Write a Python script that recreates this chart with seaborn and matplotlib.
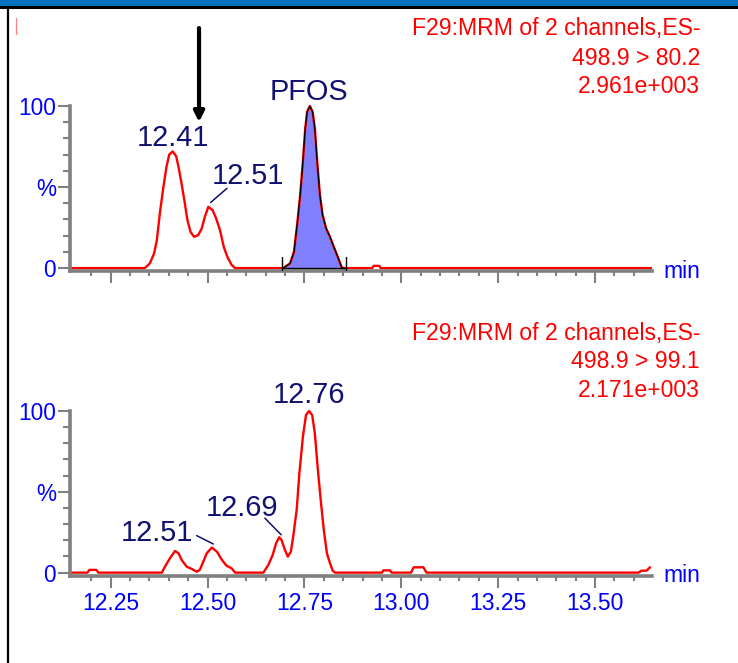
import numpy as np
import pandas as pd
import seaborn as sns
import matplotlib
matplotlib.use("Agg")
import matplotlib.pyplot as plt
from matplotlib.lines import Line2D
from matplotlib.patches import Rectangle
import matplotlib.transforms as mtransforms

# ---------------- data ----------------
top_time = [12.145, 12.338, 12.351, 12.362, 12.369, 12.377, 12.386, 12.394, 12.401, 12.410,
            12.419, 12.425, 12.433, 12.440, 12.448, 12.456, 12.465, 12.476, 12.485, 12.493,
            12.502, 12.513, 12.522, 12.532, 12.542, 12.551, 12.562, 12.571, 12.695, 12.713,
            12.723, 12.732, 12.739, 12.746, 12.752, 12.757, 12.764, 12.771, 12.777, 12.783,
            12.790, 12.797, 12.806, 12.816, 12.826, 12.836, 12.846, 12.850, 12.925, 12.929,
            12.943, 12.947, 13.647]
top_int = [0, 0, 2.9, 9, 17, 34, 50, 62.5, 70, 72,
           69, 62.5, 52, 42, 29.6, 22.4, 19.3, 20.4, 24.5, 31.7,
           37.8, 35.8, 30.7, 23.5, 13, 7, 2, 0, 0, 2.9,
           10, 28.6, 45, 65.6, 86, 96.5, 100, 96.5, 86, 65.6,
           45, 32.7, 24.5, 19.3, 13, 7, 0.6, 0, 0, 1.4,
           1.4, 0, 0]

bot_time = [12.145, 12.190, 12.195, 12.213, 12.218, 12.382, 12.390, 12.403, 12.416, 12.425,
            12.433, 12.446, 12.459, 12.472, 12.480, 12.489, 12.498, 12.511, 12.524, 12.537,
            12.549, 12.562, 12.571, 12.644, 12.657, 12.668, 12.677, 12.685, 12.691, 12.698,
            12.707, 12.715, 12.721, 12.730, 12.737, 12.746, 12.754, 12.762, 12.770, 12.777,
            12.784, 12.792, 12.800, 12.808, 12.816, 12.823, 12.829, 12.950, 12.954, 12.971,
            12.975, 13.025, 13.032, 13.057, 13.065, 13.612, 13.620, 13.633, 13.642]
bot_int = [0, 0, 1.7, 1.7, 0, 0, 3.7, 8.9, 13.4, 12,
           7.9, 3.7, 2.3, 0.6, 1.7, 6.8, 12, 15.5, 13, 7.9,
           4.3, 2.7, 0, 0, 4.8, 10.9, 18.2, 21.9, 20.2, 15.1,
           9.9, 13, 22.3, 38.8, 61.5, 84, 97.5, 100, 97.5, 86,
           65.5, 45, 26.4, 12, 5.8, 1.2, 0, 0, 1.4, 1.4,
           0, 0, 3.3, 3.3, 0, 0, 1.2, 1.2, 3.3]

pfos_window = [12.691, 12.857]

top_header = ["F29:MRM of 2 channels,ES-", "498.9 > 80.2", "2.961e+003"]
bot_header = ["F29:MRM of 2 channels,ES-", "498.9 > 99.1", "2.171e+003"]

top_labels = [("12.41", 12.411, 75.3), ("12.51", 12.605, 52.2), ("PFOS", 12.762, 103.7)]
bot_labels = [("12.76", 12.762, 104.8), ("12.69", 12.588, 35.1), ("12.51", 12.370, 19.8)]
top_leaders = [((12.508, 40.5), (12.550, 49.2))]
bot_leaders = [((12.648, 33.7), (12.690, 23.4)), ((12.472, 22.9), (12.515, 17.7))]

x_major = [12.25, 12.50, 12.75, 13.00, 13.25, 13.50]
x_major_labels = ["12.25", "12.50", "12.75", "13.00", "13.25", "13.50"]
y_major = [0, 50, 100]
y_major_labels = ["0", "%", "100"]

# ---------------- style ----------------
sns.set_style("white")
plt.rcParams["font.family"] = ["Liberation Sans", "DejaVu Sans"]

W, H = 738, 663
fig = plt.figure(figsize=(W / 100, H / 100), dpi=100)
fig.patch.set_facecolor("white")

XLIM = (12.145, 13.647)
YLIM = (-1.9, 125)
GRAY = "#808080"
NAVY = "#101070"
BLUE = "#0000FF"
RED = "#FF0000"

left = 70 / W
width = (652 - 70) / W
ax_top = fig.add_axes([left, 1 - 271.2 / H, width, (271.2 - 65.5) / H])
ax_bot = fig.add_axes([left, 1 - 575.7 / H, width, (575.7 - 370.6) / H])


def style_axis(ax, show_xlabels):
    ax.set_xlim(*XLIM)
    ax.set_ylim(*YLIM)
    ax.set_facecolor("none")
    for s in ["top", "right"]:
        ax.spines[s].set_visible(False)
    for s in ["left", "bottom"]:
        ax.spines[s].set_color(GRAY)
        ax.spines[s].set_linewidth(2.6)
    ax.spines["left"].set_bounds(YLIM[0], 100)
    ax.set_xticks(x_major)
    ax.set_xticks(np.round(np.arange(12.20, 13.62, 0.05), 2), minor=True)
    ax.set_yticks(y_major)
    ax.set_yticks([10, 20, 30, 40, 60, 70, 80, 90], minor=True)
    ax.tick_params(axis="x", which="major", direction="out", length=8.5, width=1.5,
                   color=GRAY, labelsize=16.5, labelcolor=BLUE, pad=3,
                   bottom=True)
    ax.tick_params(axis="x", which="minor", direction="out", length=3.5, width=1.5,
                   color=GRAY, bottom=True)
    ax.tick_params(axis="y", which="major", direction="out", length=9, width=1.5,
                   color=GRAY, labelsize=16.3, labelcolor=BLUE, pad=1, left=True)
    ax.tick_params(axis="y", which="minor", direction="out", length=5, width=1.5,
                   color=GRAY, left=True)
    ax.set_yticklabels(y_major_labels)
    if show_xlabels:
        ax.set_xticklabels(x_major_labels)
    else:
        ax.set_xticklabels([])
    ax.set_xlabel("")
    ax.set_ylabel("")
    trans = mtransforms.blended_transform_factory(ax.transAxes, ax.transData)
    ax.text(1.019, -2.0, "min", transform=trans, color=BLUE, fontsize=16.5,
            ha="left", va="center")


# top trace
df_top = pd.DataFrame({"time": top_time, "intensity": top_int})
sel = (df_top["time"] >= pfos_window[0]) & (df_top["time"] <= pfos_window[1])
ax_top.fill_between(df_top["time"][sel], 0, df_top["intensity"][sel],
                    color="#8080FF", zorder=1, linewidth=0)
sns.lineplot(data=df_top, x="time", y="intensity", ax=ax_top, color=RED,
             linewidth=1.7, estimator=None, sort=False, zorder=2)
ax_top.plot(df_top["time"][sel], df_top["intensity"][sel], color="black",
            linewidth=0.9, zorder=3)
ax_top.plot(pfos_window, [0, 0], color="black", linewidth=1.0, zorder=3)
for xw in pfos_window:
    ax_top.plot([xw, xw], [-1.2, 7], color="black", linewidth=1.0, zorder=3)
style_axis(ax_top, False)

# bottom trace
df_bot = pd.DataFrame({"time": bot_time, "intensity": bot_int})
sns.lineplot(data=df_bot, x="time", y="intensity", ax=ax_bot, color=RED,
             linewidth=1.7, estimator=None, sort=False, zorder=2)
style_axis(ax_bot, True)

for ax, labels, leaders in [(ax_top, top_labels, top_leaders),
                            (ax_bot, bot_labels, bot_leaders)]:
    for txt, xx, yy in labels:
        ax.text(xx, yy, txt, color=NAVY, fontsize=20.8, ha="center",
                va="baseline", clip_on=False)
    for (x0, y0), (x1, y1) in leaders:
        ax.plot([x0, x1], [y0, y1], color=NAVY, linewidth=1.1, clip_on=False)

# arrow
ax_top.annotate("", xy=(12.478, 90.1), xytext=(12.478, 148.1),
                xycoords="data", textcoords="data", annotation_clip=False,
                arrowprops=dict(arrowstyle="-|>,head_width=0.3,head_length=0.6",
                                lw=3.0, color="black", shrinkA=0, shrinkB=0))

# headers
x_hdr = 700 / W
for txt, yb in zip(top_header, [35, 65, 93]):
    fig.text(x_hdr, 1 - yb / H, txt, color=RED, fontsize=16.6, ha="right", va="baseline")
for txt, yb in zip(bot_header, [340, 367.5, 397]):
    fig.text(x_hdr, 1 - yb / H, txt, color=RED, fontsize=16.6, ha="right", va="baseline")

# window frame decorations
fig.patches.append(Rectangle((0, 1 - 5.5 / H), 1, 5.5 / H, transform=fig.transFigure,
                             facecolor="#0070C0", edgecolor="none", zorder=5))
fig.lines.append(Line2D([0, 1], [1 - 6.8 / H, 1 - 6.8 / H], transform=fig.transFigure,
                        color="black", linewidth=2.2, zorder=5))
fig.lines.append(Line2D([7.5 / W, 7.5 / W], [0, 1 - 7 / H], transform=fig.transFigure,
                        color="black", linewidth=1.6, zorder=5))
fig.lines.append(Line2D([16 / W, 16 / W], [1 - 18 / H, 1 - 34 / H], transform=fig.transFigure,
                        color="#FF8080", linewidth=0.9, zorder=5))

fig.savefig("out.png", dpi=100, facecolor="white")
